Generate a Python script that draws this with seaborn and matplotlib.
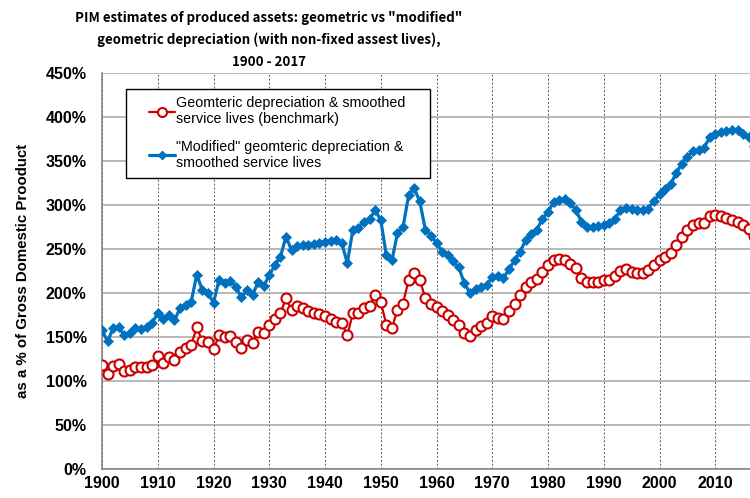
import matplotlib
matplotlib.use("Agg")
import matplotlib.pyplot as plt
from matplotlib.lines import Line2D
from matplotlib.patches import Rectangle
from matplotlib.ticker import FuncFormatter, MultipleLocator
import seaborn as sns

# --- data (% of GDP) ---
years = list(range(1900, 2018))

benchmark = [
    118, 108, 117, 119, 111, 112, 116, 116, 116, 118,   # 1900s
    128, 121, 127, 124, 133, 137, 141, 161, 145, 144,   # 1910s
    136, 152, 150, 151, 144, 138, 147, 143, 156, 155,   # 1920s
    164, 171, 177, 194, 181, 185, 183, 180, 177, 176,   # 1930s
    174, 171, 167, 166, 152, 177, 177, 183, 185, 198,   # 1940s
    190, 164, 160, 181, 188, 215, 223, 215, 194, 188,   # 1950s
    184, 179, 175, 169, 164, 155, 151, 158, 162, 166,   # 1960s
    174, 172, 171, 180, 188, 198, 207, 213, 216, 224,   # 1970s
    232, 237, 239, 238, 233, 228, 217, 213, 213, 213,   # 1980s
    215, 215, 219, 225, 227, 224, 223, 223, 226, 232,   # 1990s
    237, 241, 246, 254, 264, 272, 277, 279, 279, 287,   # 2000s
    289, 287, 285, 283, 281, 277, 273, 265,             # 2010s
]

modified = [
    158, 145, 160, 161, 152, 155, 160, 159, 161, 166,
    177, 170, 175, 169, 183, 186, 190, 221, 203, 200,
    189, 215, 211, 214, 207, 195, 203, 198, 212, 208,
    220, 232, 241, 264, 249, 253, 254, 255, 256, 257,
    258, 259, 260, 257, 234, 272, 274, 281, 284, 294,
    283, 243, 237, 268, 275, 311, 319, 304, 272, 265,
    257, 247, 243, 236, 229, 211, 200, 204, 207, 209,
    218, 219, 217, 227, 237, 247, 260, 267, 272, 284,
    292, 303, 306, 307, 302, 294, 281, 275, 275, 276,
    277, 279, 284, 294, 297, 295, 294, 294, 296, 305,
    312, 318, 324, 336, 347, 355, 361, 363, 365, 377,
    381, 383, 384, 385, 385, 381, 377, 367,
]

x_ticks = list(range(1900, 2011, 10))
label_bench = "Geomteric depreciation & smoothed\nservice lives (benchmark)"
label_mod = "\"Modified\" geomteric depreciation &\nsmoothed service lives"
title_lines = [
    "PIM estimates of produced assets: geometric vs \"modified\"",
    "geometric depreciation (with non-fixed assest lives),",
    "1900 - 2017",
]

RED = "#CC0000"
BLUE = "#0070C0"

sns.set_theme(style="white")
plt.rcParams["font.family"] = ["Liberation Sans", "DejaVu Sans"]

fig = plt.figure(figsize=(7.5, 4.98), dpi=100)
# plot area runs past the right edge, like the cropped reference
ax = fig.add_axes([102 / 750, 29 / 498, (771 - 102) / 750, 396 / 498])

sns.lineplot(x=years, y=benchmark, ax=ax, color=RED, linewidth=1.6,
             marker="o", markersize=7.2, markerfacecolor="white",
             markeredgecolor=RED, markeredgewidth=1.5, zorder=4)
sns.lineplot(x=years, y=modified, ax=ax, color=BLUE, linewidth=2.3,
             marker="D", markersize=5, markerfacecolor=BLUE,
             markeredgecolor=BLUE, markeredgewidth=0.5, zorder=5)

ax.set_xlim(1900, 2020)
ax.set_ylim(0, 450)
ax.set_xticks(x_ticks)
ax.yaxis.set_major_locator(MultipleLocator(50))
ax.yaxis.set_major_formatter(FuncFormatter(lambda v, p: f"{int(v)}%"))

ax.grid(axis="y", color="#A6A6A6", linewidth=1.1, linestyle="-")
ax.grid(axis="x", color="#5A5A5A", linewidth=0.7, linestyle=(0, (2, 2)))
ax.set_axisbelow(True)

for side in ["top", "right"]:
    ax.spines[side].set_visible(False)
ax.spines["left"].set_color("#808080")
ax.spines["bottom"].set_color("#808080")
ax.spines["left"].set_linewidth(1.1)
ax.spines["bottom"].set_linewidth(1.1)

ax.tick_params(axis="y", length=0, pad=11, labelsize=11.5, labelcolor="black")
ax.tick_params(axis="x", length=0, pad=5, labelsize=11.5, labelcolor="black")
for t in ax.get_xticklabels() + ax.get_yticklabels():
    t.set_fontweight("bold")

ax.set_xlabel("")
ax.set_ylabel("as a % of Gross Domestic Prooduct", fontsize=10.8,
              fontweight="bold", color="black", labelpad=11)

# title, three centred lines (narrow-looking face)
for i, line in enumerate(title_lines):
    fig.text(269 / 750, 1 - (18 + 22 * i) / 498, line, ha="center", va="center",
             fontsize=9.6, fontweight="bold", color="black",
             family=["Noto Sans CJK JP", "Liberation Sans", "DejaVu Sans"])

# legend: white box with black frame, entries inset
fig.add_artist(Rectangle((126 / 750, 1 - 178 / 498), (430 - 126) / 750, 89 / 498,
                         transform=fig.transFigure, facecolor="white",
                         edgecolor="black", linewidth=1.0, zorder=6))
handles = [
    Line2D([], [], color=RED, linewidth=1.6, marker="o", markersize=6.5,
           markerfacecolor="white", markeredgecolor=RED, markeredgewidth=1.5),
    Line2D([], [], color=BLUE, linewidth=2.3, marker="D", markersize=4.5,
           markerfacecolor=BLUE, markeredgecolor=BLUE),
]
leg = fig.legend(handles, [label_bench, label_mod], loc="upper left",
                 bbox_to_anchor=(139 / 750, 1 - 86 / 498), frameon=False,
                 fontsize=10.3, handlelength=1.8, handletextpad=0.1,
                 labelspacing=0.95, borderpad=0.2)
leg.set_zorder(7)
for t in leg.get_texts():
    t.set_color("black")

fig.savefig("out.png", dpi=100)
